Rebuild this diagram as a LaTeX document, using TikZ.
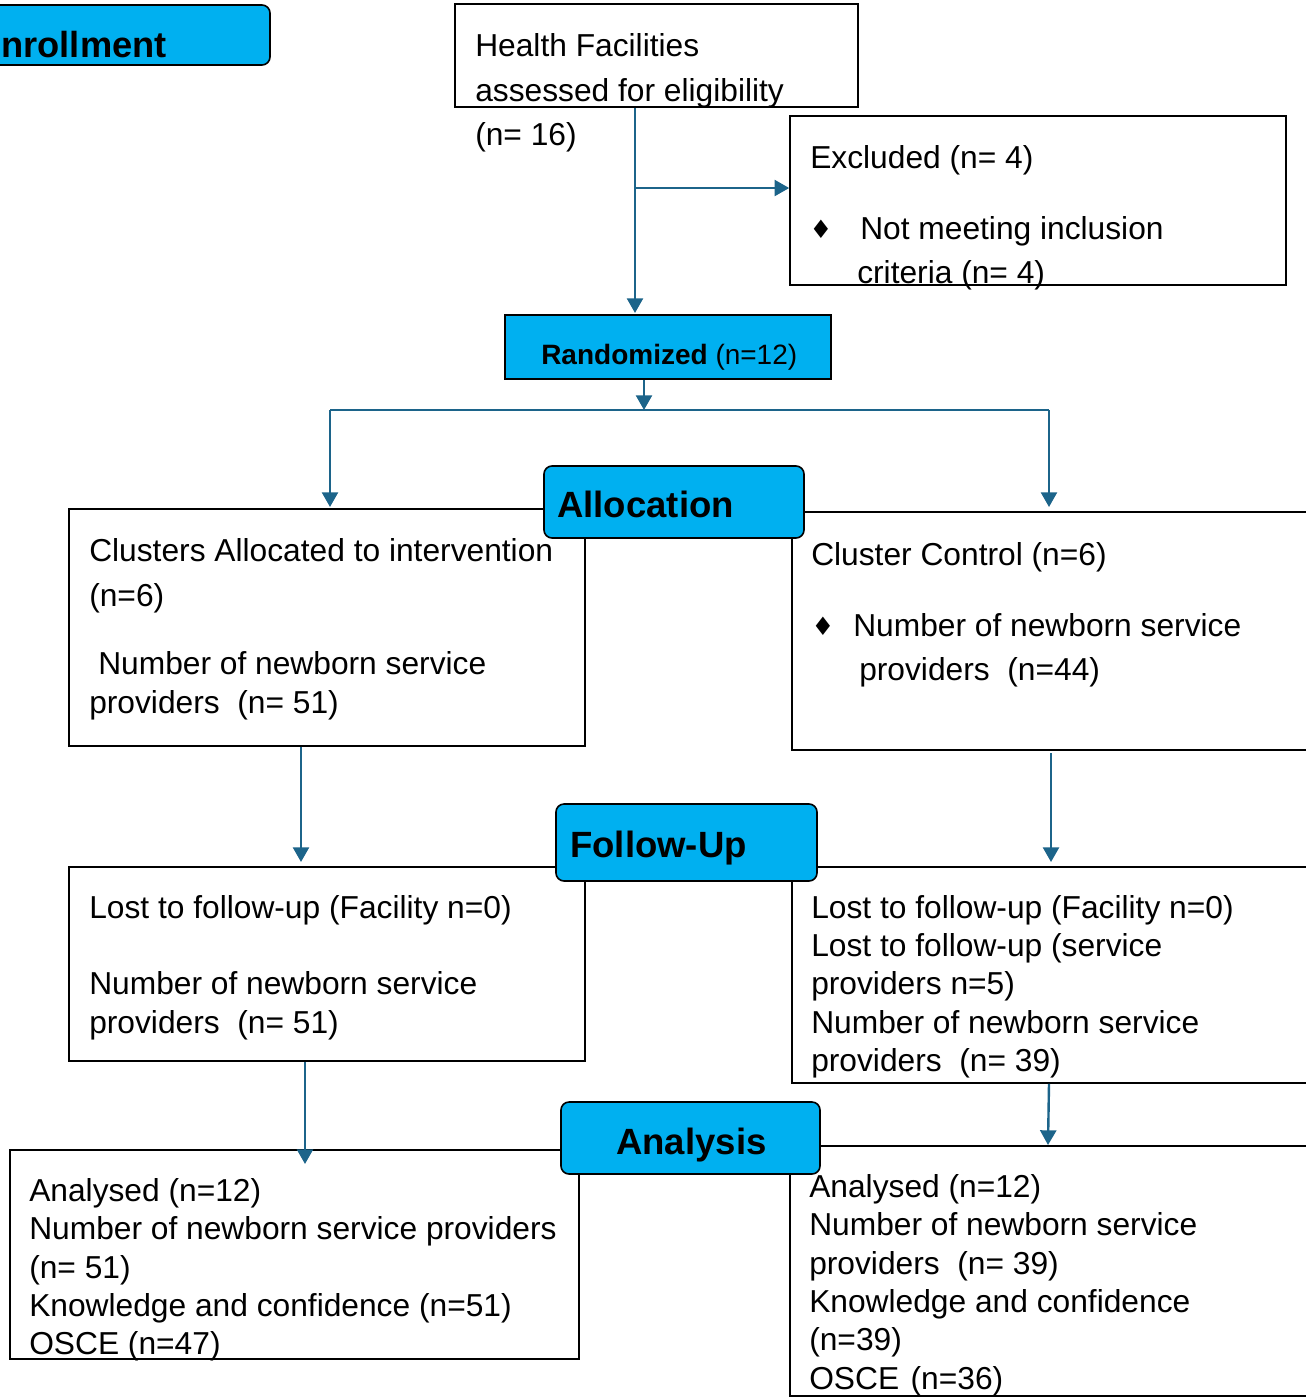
\documentclass[tikz,border=0pt]{standalone}
\usepackage{fontspec}
\setmainfont{Liberation Sans}
\newfontfamily\symfont{DejaVu Sans}
\usetikzlibrary{arrows.meta,fit}
\definecolor{hdr}{HTML}{00B0F0}
\definecolor{arrc}{RGB}{28,100,138}
\begin{document}
\begin{tikzpicture}[x=0.75pt,y=-0.75pt,
 box/.style={draw=black,line width=1.2pt,inner sep=0pt,fill=white},
 hbox/.style={draw=black,line width=1.2pt,inner sep=0pt,fill=hdr},
 rhbox/.style={hbox,rounded corners=6pt},
 txt/.style={anchor=base west,inner sep=0pt,font=\fontsize{23.8}{28}\selectfont},
 htxt/.style={anchor=base west,inner sep=0pt,font=\fontsize{27.4}{33}\selectfont\bfseries},
 conn/.style={draw=arrc,line width=1.8pt},
 arr/.style={conn,-{Triangle[length=11pt,width=12pt]}},
 bul/.style={inner sep=0pt,font=\symfont\fontsize{19}{22}\selectfont}]
\useasboundingbox (0,0) rectangle (1306,1397);
\clip (0,0) rectangle (1306,1397);
\fill[white] (0,0) rectangle (1306,1397);

% ---- white boxes
\node[box, fit={(455,4) (858,107)}] (hf) {};
\node[box, fit={(790,116) (1286,285)}] (ex) {};
\node[box, fit={(69,509) (585,746)}] (ia) {};
\node[box, fit={(792,512) (1314,750)}] (ctrl) {};
\node[box, fit={(69,867) (585,1061)}] (lf) {};
\node[box, fit={(792,867) (1314,1083)}] (rf) {};
\node[box, fit={(10,1150) (579,1359)}] (la) {};
\node[box, fit={(790,1146) (1314,1396)}] (ra) {};

% ---- header boxes
\node[rhbox, fit={(-40,5) (270,65)}] (enr) {};
\node[hbox, fit={(505,315) (831,379)}] (rand) {};
\node[rhbox, fit={(544,466) (804,538)}] (alloc) {};
\node[rhbox, fit={(556,804) (817,881)}] (fu) {};
\node[rhbox, fit={(561,1102) (820,1174)}] (an) {};

% ---- header texts
\node[htxt, font=\fontsize{27.2}{33}\selectfont\bfseries] (tenr) at (-23,57) {Enrollment};
\node[anchor=base west, inner sep=0pt, font=\fontsize{21}{25}\selectfont] (trand) at (541,364) {\textbf{Randomized} (n=12)};
\node[htxt] (talloc) at (557,517) {Allocation};
\node[htxt] (tfu) at (570,857) {Follow-Up};
\node[htxt] (tan) at (616,1154) {Analysis};

% ---- texts
\node[txt] (h1) at (475,56) {Health Facilities};
\node[txt] (h2) at (475,101) {assessed for eligibility};
\node[txt] (h3) at (475,145) {(n= 16)};

\node[txt] (e1) at (810,168) {Excluded (n= 4)};
\node[bul] (eb) at (821,229) {♦};
\node[txt] (e2) at (860,239) {Not meeting inclusion};
\node[txt] (e3) at (857,283) {criteria (n= 4)};

\node[txt] (i1) at (89,561) {Clusters Allocated to intervention};
\node[txt] (i2) at (89,606) {(n=6)};
\node[txt] (i3) at (98,674) {Number of newborn service};
\node[txt] (i4) at (89,713) {providers~~(n= 51)};

\node[txt] (c1t) at (811,565) {Cluster Control (n=6)};
\node[bul] (cb) at (823,626) {♦};
\node[txt] (c2t) at (853,636) {Number of newborn service};
\node[txt] (c3t) at (859,680) {providers~~(n=44)};

\node[txt] (l1) at (89,918) {Lost to follow-up (Facility n=0)};
\node[txt] (l2) at (89,994) {Number of newborn service};
\node[txt] (l3) at (89,1033) {providers~~(n= 51)};

\node[txt] (r1) at (811,918) {Lost to follow-up (Facility n=0)};
\node[txt] (r2) at (811,956) {Lost to follow-up (service};
\node[txt] (r3) at (811,994) {providers n=5)};
\node[txt] (r4) at (811,1033) {Number of newborn service};
\node[txt] (r5) at (811,1071) {providers~~(n= 39)};

\node[txt] (a1) at (29,1201) {Analysed (n=12)};
\node[txt] (a2) at (29,1239) {Number of newborn service providers};
\node[txt] (a3) at (29,1278) {(n= 51)};
\node[txt] (a4) at (29,1316) {Knowledge and confidence (n=51)};
\node[txt] (a5) at (29,1354) {OSCE (n=47)};

\node[txt] (b1) at (809,1197) {Analysed (n=12)};
\node[txt] (b2) at (809,1235) {Number of newborn service};
\node[txt] (b3) at (809,1274) {providers~~(n= 39)};
\node[txt] (b4) at (809,1312) {Knowledge and confidence};
\node[txt] (b5) at (809,1350) {(n=39)};
\node[txt] (b6) at (809,1389) {OSCE\ \kern2pt(n=36)};

% ---- connectors
\coordinate (x1) at (635,0);
\coordinate (j1) at (635,188);
\draw[arr] (x1 |- hf.south) -- (635,313) coordinate (randin);
\draw[arr] (j1) -- (j1 -| ex.west);
\coordinate (split) at (644,410);
\draw[arr] (split |- rand.south) -- (split);
\coordinate (cl) at (330,410);
\coordinate (cr) at (1049,410);
\draw[conn] (cl) -- (cr);
\draw[arr] (cl) -- (330,507) coordinate (iain);
\draw[arr] (cr) -- (1049,507) coordinate (ctrlin);
\coordinate (x2) at (301,0);
\draw[arr] (x2 |- ia.south) -- (301,862) coordinate (lfin);
\draw[arr] (1051,753) coordinate (ctrlout) -- (1051,862) coordinate (rfin);
\coordinate (x3) at (305,0);
\draw[arr] (x3 |- lf.south) -- (305,1164) coordinate (lain);
\coordinate (x4) at (1049,0);
\draw[arr] (x4 |- rf.south) -- (1048,1145) coordinate (rain);
\end{tikzpicture}
\end{document}
